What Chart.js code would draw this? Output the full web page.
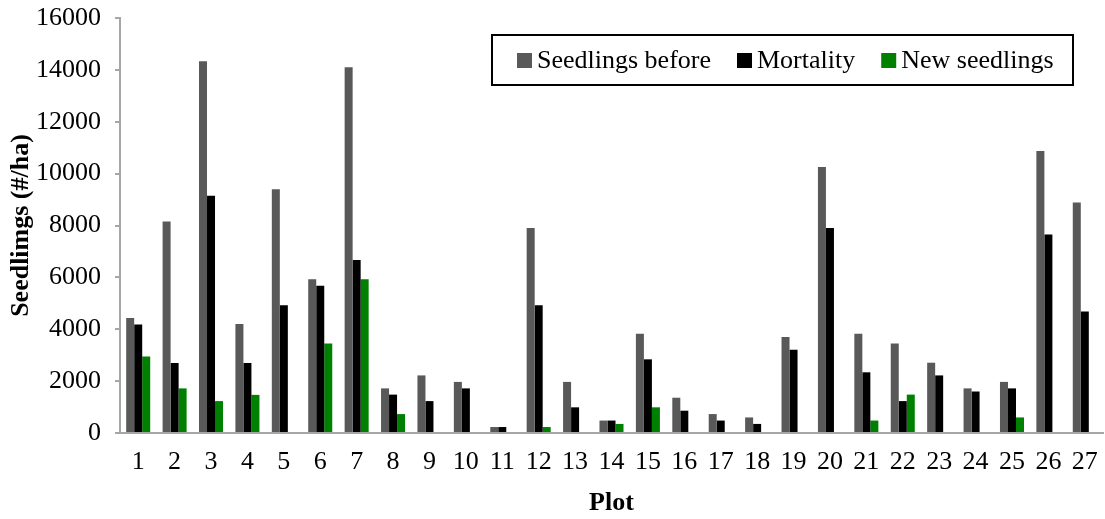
<!DOCTYPE html>
<html>
<head>
<meta charset="utf-8">
<script src="https://cdn.jsdelivr.net/npm/chart.js@4"></script>
<style>
  html, body { margin: 0; padding: 0; background: #fff; }
  #wrap { width: 1105px; height: 519px; }
</style>
</head>
<body>
<div id="wrap"><canvas id="myChart"></canvas></div>
<script>
const plots = ['1','2','3','4','5','6','7','8','9','10','11','12','13','14','15','16','17','18','19','20','21','22','23','24','25','26','27'];
const seedlingsBefore = [4430, 8150, 14330, 4200, 9400, 5930, 14100, 1720, 2220, 1970, 230, 7900, 1970, 480, 3830, 1360, 730, 600, 3700, 10260, 3830, 3450, 2710, 1720, 1970, 10870, 8890];
const mortality = [4180, 2700, 9150, 2700, 4930, 5680, 6670, 1480, 1230, 1720, 230, 4930, 990, 480, 2840, 860, 480, 350, 3210, 7900, 2340, 1230, 2220, 1600, 1720, 7650, 4680];
const newSeedlings = [2950, 1720, 1230, 1470, 0, 3450, 5930, 730, 0, 0, 0, 230, 0, 350, 990, 0, 0, 0, 0, 0, 480, 1480, 0, 0, 600, 0, 0];
const yTicks = [0, 2000, 4000, 6000, 8000, 10000, 12000, 14000, 16000];

const serif = 'Liberation Serif, Times New Roman, serif';
const axisGray = '#a6a6a6';

/* legend drawn in a box inside the plot area */
const boxedLegend = {
    id: 'boxedLegend',
    afterDraw(chart) {
        const c = chart.ctx;
        c.save();
        c.strokeStyle = '#000';
        c.lineWidth = 2;
        c.strokeRect(492, 35, 581, 50);
        c.font = '26px ' + serif;
        c.textBaseline = 'middle';
        let x = 517;
        chart.data.datasets.forEach(ds => {
            c.fillStyle = ds.backgroundColor;
            c.fillRect(x, 53, 15, 15);
            x += 20;
            c.fillStyle = '#000';
            c.fillText(ds.label, x, 61);
            x += c.measureText(ds.label).width + 26;
        });
        c.restore();
    }
};

new Chart(document.getElementById('myChart'), {
    type: 'bar',
    data: {
        labels: plots,
        datasets: [
            { label: 'Seedlings before', data: seedlingsBefore, backgroundColor: '#595959' },
            { label: 'Mortality', data: mortality, backgroundColor: '#000000' },
            { label: 'New seedlings', data: newSeedlings, backgroundColor: '#008000' }
        ]
    },
    options: {
        responsive: true,
        maintainAspectRatio: false,
        animation: false,
        layout: { padding: { left: 0, right: 2, top: 18, bottom: 0 } },
        datasets: { bar: { barPercentage: 1, categoryPercentage: 0.66 } },
        plugins: {
            legend: { display: false },
            tooltip: { enabled: false }
        },
        scales: {
            x: {
                grid: { display: true, drawOnChartArea: false, drawTicks: false },
                border: { color: axisGray, width: 2 },
                ticks: { color: '#000', padding: 14, font: { family: serif, size: 26 }, maxRotation: 0, autoSkip: false },
                title: { display: true, text: 'Plot', color: '#000', padding: { top: 0, bottom: 0 }, font: { family: serif, size: 26, weight: 'bold' } },
                afterFit: s => { s.height = 86; s.paddingLeft = 0; s.paddingRight = 0; }
            },
            y: {
                min: 0,
                max: 16000,
                afterBuildTicks: s => { s.ticks = yTicks.map(v => ({ value: v })); },
                grid: { display: true, drawOnChartArea: false, drawTicks: true, tickLength: 5, color: axisGray, lineWidth: 2 },
                border: { color: axisGray, width: 2 },
                ticks: { color: '#000', padding: 14, font: { family: serif, size: 26 }, callback: v => String(v) },
                title: { display: true, text: 'Seedlimgs (#/ha)', color: '#000', padding: { top: 6, bottom: 0 }, font: { family: serif, size: 26, weight: 'bold' } },
                afterFit: s => { s.width = 120; s.paddingTop = 0; s.paddingBottom = 0; }
            }
        }
    },
    plugins: [boxedLegend]
});
</script>
</body>
</html>
